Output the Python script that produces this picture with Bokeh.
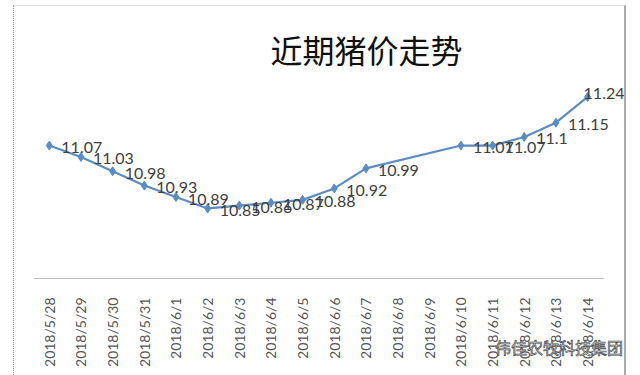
from bokeh.plotting import figure
from bokeh.models import ColumnDataSource, Range1d, LabelSet, Div
from bokeh.layouts import column
from bokeh.core.properties import value
from bokeh.embed import file_html
from bokeh.resources import INLINE
from math import pi

title_text = "近期猪价走势"
dates = ["2018/5/28", "2018/5/29", "2018/5/30", "2018/5/31", "2018/6/1", "2018/6/2",
         "2018/6/3", "2018/6/4", "2018/6/5", "2018/6/6", "2018/6/7", "2018/6/8",
         "2018/6/9", "2018/6/10", "2018/6/11", "2018/6/12", "2018/6/13", "2018/6/14"]
prices = [11.07, 11.03, 10.98, 10.93, 10.89, 10.85, 10.86, 10.87, 10.88, 10.92, 10.99,
          None, None, 11.07, 11.07, 11.1, 11.15, 11.24]
watermark = "伟佳农牧科技集团"

idx = [i for i, v in enumerate(prices) if v is not None]
ys = [prices[i] for i in idx]
n = len(ys)
# label offsets (style): last label nudged up-left like the original
xoff = [12] * (n - 1) + [-4]
yoff = [-2] * (n - 1) + [3]
src = ColumnDataSource(dict(x=idx, y=ys, lab=[str(v) for v in ys], xo=xoff, yo=yoff))

p = figure(x_range=Range1d(-0.5, len(dates) + 0.26), y_range=Range1d(10.605, 11.294),
           width=613, height=370, output_backend="svg", toolbar_location=None,
           min_border_left=19, min_border_right=0, min_border_bottom=98,
           min_border_top=75, margin=(5, 0, 0, 13))
p.title.text = title_text
p.title.text_font = "Noto Sans CJK SC"
p.title.text_font_size = "32px"
p.title.text_font_style = "normal"
p.title.text_color = "#111111"
p.title.align = "left"
p.title.offset = 237
p.title.standoff = 20

p.outline_line_color = None
p.xgrid.grid_line_color = None
p.ygrid.grid_line_color = None
p.yaxis.visible = False
p.xaxis.ticker = list(range(len(dates)))
p.xaxis.major_label_overrides = {i: d for i, d in enumerate(dates)}
p.xaxis.bounds = (-0.5, len(dates) - 0.5)
p.xaxis.axis_line_color = "#bfbfbf"
p.xaxis.major_tick_line_color = None
p.xaxis.minor_tick_line_color = None
p.xaxis.major_label_orientation = pi / 2
p.xaxis.major_label_standoff = 13
p.xaxis.major_label_text_font = "Lato"
p.xaxis.major_label_text_font_size = "14px"
p.xaxis.major_label_text_color = "#555555"

p.line("x", "y", source=src, line_color="#5b8dc4", line_width=2.2)
p.scatter("x", "y", source=src, marker="diamond", size=9, fill_color="#5b8dc4",
          line_color="#5b8dc4")
p.add_layout(LabelSet(x="x", y="y", text="lab", source=src, x_offset="xo", y_offset="yo",
                      text_font=value("Lato"), text_font_size="16px",
                      text_color="#404040", text_baseline="middle", text_align="left"))

p.styles = {"border-left": "1px dotted #999", "border-top": "1px solid #ddd",
            "border-right": "2px solid #aaa"}

wm = Div(text=watermark, margin=(-39, 0, 0, 495),
         styles={"font-family": "Noto Sans CJK SC", "font-size": "16px",
                 "color": "#ffffff", "-webkit-text-stroke": "0.7px #444",
                 "white-space": "nowrap"})

layout = column(p, wm, spacing=0)
open("out.html", "w").write(file_html(layout, INLINE))
